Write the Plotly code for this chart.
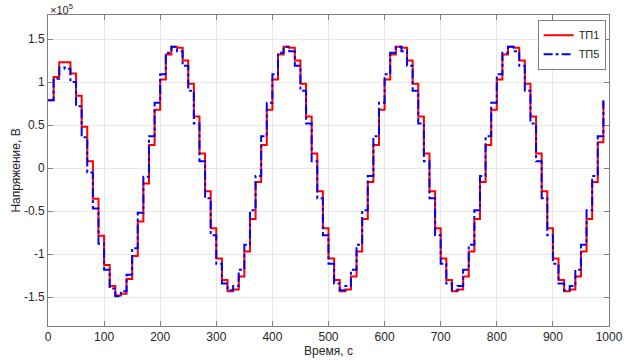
import plotly.graph_objects as go

# time samples (s), one step every 10 s
t = list(range(0, 1000, 10))

# voltage values in units of 1e5 V
tp1_start = [0.79, 1.06, 1.23, 1.23, 1.10, 0.84, 0.48, 0.08, -0.355, -0.785,
             -1.125, -1.37, -1.48, -1.46, -1.29, -1.02, -0.62, -0.18]
tp1_cycle = [0.27, 0.68, 1.03, 1.32, 1.41, 1.40, 1.25, 0.98, 0.60, 0.17,
             -0.27, -0.70, -1.05, -1.30, -1.43, -1.41, -1.26, -0.97, -0.59, -0.16]
tp1_end = [0.30, 0.78]

tp5_start = [0.79, 1.04, 1.17, 1.155, 1.00, 0.72, 0.36, -0.05, -0.47, -0.88,
             -1.18, -1.40, -1.49, -1.43, -1.24, -0.93, -0.52, -0.10]
tp5_cycle = [0.37, 0.76, 1.09, 1.34, 1.41, 1.36, 1.19, 0.90, 0.52, 0.08,
             -0.35, -0.78, -1.11, -1.34, -1.42, -1.37, -1.18, -0.89, -0.49, -0.09]
tp5_end = [0.37, 0.79]

tp1 = tp1_start + tp1_cycle * 4 + tp1_end
tp5 = tp5_start + tp5_cycle * 4 + tp5_end

x_ticks = [0, 100, 200, 300, 400, 500, 600, 700, 800, 900, 1000]
y_ticks = [-1.5, -1, -0.5, 0, 0.5, 1, 1.5]
y_tick_labels = ["-1.5", "-1", "-0.5", "0", "0.5", "1", "1.5"]

fig = go.Figure()
fig.add_trace(go.Scatter(x=t, y=tp1, mode="lines", name="ТП1",
                         line=dict(color="#ff0000", width=2, shape="hv")))
fig.add_trace(go.Scatter(x=t, y=tp5, mode="lines", name="ТП5",
                         line=dict(color="#0000ff", width=2, shape="hv", dash="dashdot")))

axis_common = dict(showline=True, linecolor="#808080", linewidth=1, mirror="ticks",
                   ticks="inside", ticklen=5, tickcolor="#808080",
                   showgrid=True, gridcolor="#e8e8e8", gridwidth=1, zeroline=False,
                   automargin=False,
                   tickfont=dict(family="Liberation Sans, Arial", size=12, color="#262626"))

fig.update_layout(
    width=624, height=361,
    margin=dict(l=48, r=15, t=15, b=35),
    paper_bgcolor="white", plot_bgcolor="white",
    font=dict(family="Liberation Sans, Arial", size=12, color="#262626"),
    xaxis=dict(range=[0, 1000], tickvals=x_ticks,
               title=dict(text="Время, с", standoff=2, font=dict(size=12)),
               **axis_common),
    yaxis=dict(range=[-1.835, 1.78], tickvals=y_ticks, ticktext=y_tick_labels,
               title=dict(text="Напряжение, В", standoff=0, font=dict(size=12)),
               **axis_common),
    legend=dict(x=0.994, y=0.985, xanchor="right", yanchor="top",
                bgcolor="white", bordercolor="#808080", borderwidth=1,
                font=dict(size=11), tracegroupgap=0, itemwidth=30),
    showlegend=True,
)
fig.add_annotation(text="×10<sup>5</sup>", xref="paper", yref="paper",
                   x=0, y=1, xanchor="left", yanchor="bottom", showarrow=False,
                   font=dict(size=11, color="#262626"), yshift=-3)

fig.write_html("out.html", config={"displayModeBar": False},
               post_script="document.body.style.margin='0';document.body.style.overflow='hidden';")
